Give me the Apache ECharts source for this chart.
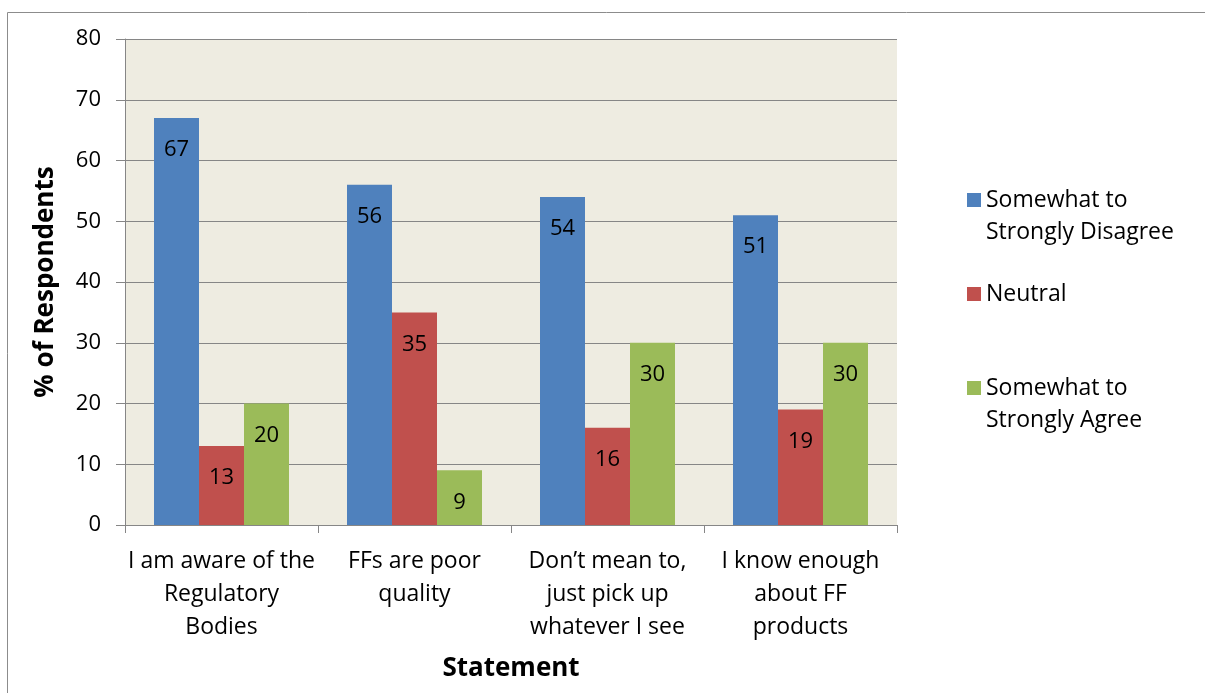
<!DOCTYPE html>
<html>
<head>
<meta charset="utf-8">
<script src="https://cdn.jsdelivr.net/npm/echarts@6/dist/echarts.min.js"></script>
<style>
  html, body { margin: 0; padding: 0; background: #fff; }
  #chart { width: 1205px; height: 693px; }
</style>
</head>
<body>
<div id="chart"></div>
<script>
const statements = [
  'I am aware of the\nRegulatory\nBodies',
  'FFs are poor\nquality',
  'Don\u2019t mean to,\njust pick up\nwhatever I see',
  'I know enough\nabout FF\nproducts'
];
const disagree = [67, 56, 54, 51];
const neutral = [13, 35, 16, 19];
const agree = [20, 9, 30, 30];

const seriesNames = ['Somewhat to\nStrongly Disagree', 'Neutral', 'Somewhat to\nStrongly Agree'];
const colors = ['#4F81BD', '#C0504D', '#9BBB59'];

const font = '"Open Sans", Lato, sans-serif';

const chart = echarts.init(document.getElementById('chart'));

function bar(name, data, color) {
  return {
    name: name,
    type: 'bar',
    data: data,
    barWidth: 45,
    barGap: '0%',
    itemStyle: { color: color },
    label: {
      show: true,
      position: 'insideTop',
      distance: 21,
      color: '#000',
      fontSize: 22,
      fontFamily: font
    }
  };
}

const option = {
  animation: false,
  textStyle: { fontFamily: font },
  graphic: [{
    type: 'rect',
    shape: { x: 7.5, y: 12.5, width: 1400, height: 900 },
    style: { fill: 'none', stroke: '#8c8c8c', lineWidth: 1 },
    z: -10
  }],
  legend: {
    data: seriesNames,
    orient: 'vertical',
    left: 962,
    top: 147,
    itemGap: 30,
    itemWidth: 14,
    itemHeight: 14,
    icon: 'rect',
    // invisible first line so the swatch sits beside the first text line
    formatter: name => name.indexOf('\n') >= 0
      ? '{gap|.}\n' + name.split('\n').map(s => '{t|' + s + '}').join('\n')
      : '{t|' + name + '}',
    textStyle: {
      fontSize: 23,
      fontFamily: font,
      color: '#000',
      lineHeight: 32,
      rich: {
        gap: { color: 'rgba(0,0,0,0)', fontSize: 23, lineHeight: 32, fontFamily: font },
        t: { color: '#000', fontSize: 23, lineHeight: 32, fontFamily: font }
      }
    }
  },
  grid: {
    left: 125,
    top: 39,
    right: 308,
    bottom: 168,
    show: true,
    backgroundColor: '#EEECE1',
    borderWidth: 0
  },
  xAxis: {
    type: 'category',
    data: statements,
    name: 'Statement',
    nameLocation: 'middle',
    nameGap: 131,
    nameTextStyle: { fontSize: 26, fontWeight: 'bold', color: '#000', fontFamily: font },
    axisLine: { lineStyle: { color: '#868686' } },
    axisTick: { show: true, length: 8, lineStyle: { color: '#868686' } },
    axisLabel: {
      color: '#000',
      fontSize: 23,
      fontFamily: font,
      lineHeight: 33,
      margin: 20,
      interval: 0
    }
  },
  yAxis: {
    type: 'value',
    min: 0,
    max: 80,
    interval: 10,
    name: '% of Respondents',
    nameLocation: 'middle',
    nameGap: 66,
    nameTextStyle: { fontSize: 26, fontWeight: 'bold', color: '#000', fontFamily: font },
    axisLine: { show: true, lineStyle: { color: '#868686' } },
    axisTick: { show: true, length: 9, lineStyle: { color: '#868686' } },
    axisLabel: { color: '#000', fontSize: 22, fontFamily: font, margin: 24 },
    splitLine: { lineStyle: { color: '#868686' } }
  },
  series: [
    bar(seriesNames[0], disagree, colors[0]),
    bar(seriesNames[1], neutral, colors[1]),
    bar(seriesNames[2], agree, colors[2])
  ]
};

chart.setOption(option);
</script>
</body>
</html>
